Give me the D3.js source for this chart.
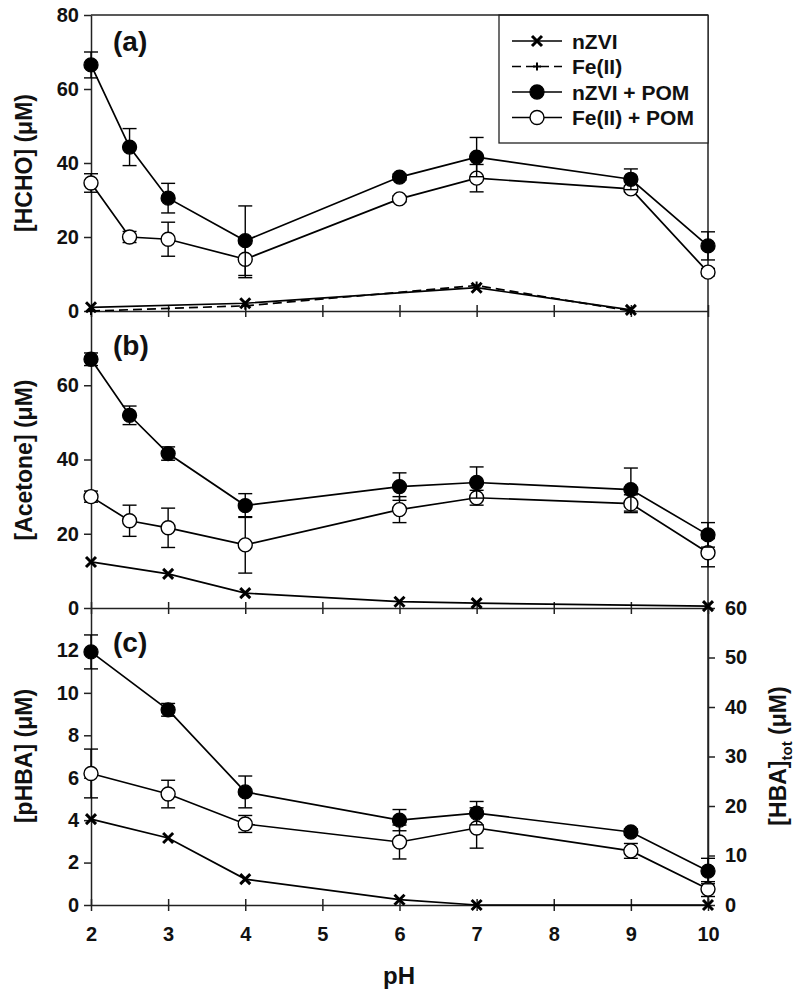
<!DOCTYPE html>
<html>
<head>
<meta charset="utf-8">
<script src="https://cdn.jsdelivr.net/npm/d3@7/dist/d3.min.js"></script>
<style>
body { margin: 0; background: #fff; }
text { font-family: "Liberation Sans", Arial, sans-serif; font-weight: bold; fill: #111; }
</style>
</head>
<body>
<script>
var pHAll = [2, 2.5, 3, 4, 6, 7, 9, 10];
var pHTicks = [2, 3, 4, 5, 6, 7, 8, 9, 10];

// (a) HCHO
var hchoNzviPom = [66.5, 44.3, 30.5, 19.0, 36.2, 41.6, 35.6, 17.6];
var hchoNzviPomErr = [3.5, 5.0, 4.0, 9.4, 0.8, 5.3, 2.8, 3.8];
var hchoFePom = [34.6, 20.0, 19.4, 14.0, 30.3, 35.9, 33.0, 10.5];
var hchoFePomErr = [2.5, 1.5, 4.6, 5.0, 0.8, 3.7, 0.8, 1.0];
var pHHchoNzvi = [2, 4, 7, 9];
var hchoNzvi = [1.0, 2.1, 6.3, 0.3];
var hchoFe = [0.0, 1.4, 6.9, 0.0];

// (b) acetone
var acetoneNzviPom = [67.0, 51.9, 41.6, 27.6, 32.7, 33.8, 31.9, 19.7];
var acetoneNzviPomErr = [1.7, 2.5, 1.8, 3.2, 3.7, 4.2, 5.8, 3.3];
var acetoneFePom = [30.0, 23.5, 21.6, 17.0, 26.5, 29.7, 28.1, 14.9];
var acetoneFePomErr = [1.5, 4.2, 5.3, 7.6, 3.5, 2.0, 2.4, 3.8];
var pHAcetoneNzvi = [2, 3, 4, 6, 7, 10];
var acetoneNzvi = [12.4, 9.2, 4.0, 1.7, 1.3, 0.5];

// (c) pHBA
var pHPhba = [2, 3, 4, 6, 7, 9, 10];
var phbaNzviPom = [11.93, 9.2, 5.33, 4.0, 4.33, 3.44, 1.6];
var phbaNzviPomErr = [0.8, 0.3, 0.75, 0.5, 0.55, 0.15, 0.6];
var phbaFePom = [6.2, 5.23, 3.82, 2.97, 3.63, 2.55, 0.75];
var phbaFePomErr = [1.15, 0.65, 0.4, 0.8, 0.95, 0.35, 0.35];
var pHPhbaNzvi = [2, 3, 4, 6, 7, 10];
var phbaNzvi = [4.05, 3.16, 1.22, 0.25, 0.0, 0.0];

var legendLabels = ["nZVI", "Fe(II)", "nZVI + POM", "Fe(II) + POM"];
var legendKinds = ["x", "plus", "filled", "open"];

var width = 800, height = 997;
var axisColor = "#222";
var tickFont = 20;

var svg = d3.select("body").append("svg")
    .attr("width", width)
    .attr("height", height);

var xScale = d3.scaleLinear().domain([2, 10]).range([91, 708]);
var yA = d3.scaleLinear().domain([0, 80]).range([311, 15]);
var yB = d3.scaleLinear().domain([0, 80]).range([608, 311]);
var yC = d3.scaleLinear().domain([0, 14]).range([905, 608]);
var yC2 = d3.scaleLinear().domain([0, 60]).range([905, 608]);

function zip(xs, ys, es) {
    return xs.map(function(x, i) { return {x: x, y: ys[i], e: es ? es[i] : 0}; });
}

function marker(g, kind, cx, cy) {
    if (kind == "filled") {
        g.append("circle").attr("cx", cx).attr("cy", cy).attr("r", 7)
            .style("fill", "#000").style("stroke", "#000").style("stroke-width", 1.3);
    } else if (kind == "open") {
        g.append("circle").attr("cx", cx).attr("cy", cy).attr("r", 7)
            .style("fill", "#fff").style("stroke", "#000").style("stroke-width", 1.4);
    } else if (kind == "x") {
        g.append("path").attr("transform", "translate(" + cx + "," + cy + ")")
            .attr("d", "M-5,-5L5,5M-5,5L5,-5")
            .style("stroke", "#000").style("stroke-width", 3).style("fill", "none");
    } else if (kind == "plus") {
        g.append("path").attr("transform", "translate(" + cx + "," + cy + ")")
            .attr("d", "M-4,0L4,0M0,-4L0,4")
            .style("stroke", "#000").style("stroke-width", 2).style("fill", "none");
    }
}

function drawSeries(yScale, data, kind, dashed) {
    var g = svg.append("g");
    // error bars first
    data.forEach(function(d) {
        if (!d.e) return;
        var x = xScale(d.x), y0 = yScale(d.y - d.e), y1 = yScale(d.y + d.e);
        g.append("line").attr("x1", x).attr("x2", x).attr("y1", y0).attr("y2", y1)
            .style("stroke", "#000").style("stroke-width", 1.4);
        [y0, y1].forEach(function(yy) {
            g.append("line").attr("x1", x - 7).attr("x2", x + 7).attr("y1", yy).attr("y2", yy)
                .style("stroke", "#000").style("stroke-width", 1.4);
        });
    });
    var line = d3.line()
        .x(function(d) { return xScale(d.x); })
        .y(function(d) { return yScale(d.y); });
    g.append("path").datum(data)
        .attr("d", line)
        .style("fill", "none")
        .style("stroke", "#000")
        .style("stroke-width", 1.7)
        .style("stroke-dasharray", dashed ? "9,5" : null);
    data.forEach(function(d) {
        marker(g, kind, xScale(d.x), yScale(d.y));
    });
}

function styleAxis(g) {
    g.selectAll("path").style("stroke", axisColor).style("stroke-width", 1.5);
    g.selectAll("line").style("stroke", axisColor).style("stroke-width", 1.5);
    g.selectAll("text").attr("font-size", tickFont).style("fill", "#111");
    g.attr("font-family", null);
}

// left axes
svg.append("g").attr("transform", "translate(91,0)")
    .call(d3.axisLeft(yA).tickValues([0, 20, 40, 60, 80]).tickSize(7).tickSizeOuter(0).tickPadding(5))
    .call(styleAxis);
svg.append("g").attr("transform", "translate(91,0)")
    .call(d3.axisLeft(yB).tickValues([0, 20, 40, 60]).tickSize(7).tickSizeOuter(0).tickPadding(5))
    .call(styleAxis);
svg.append("g").attr("transform", "translate(91,0)")
    .call(d3.axisLeft(yC).tickValues([0, 2, 4, 6, 8, 10, 12]).tickSize(7).tickSizeOuter(0).tickPadding(5))
    .call(styleAxis);

// right axis for HBA tot
svg.append("g").attr("transform", "translate(708,0)")
    .call(d3.axisRight(yC2).tickValues([0, 10, 20, 30, 40, 50, 60]).tickSize(7).tickSizeOuter(0).tickPadding(10))
    .call(styleAxis);
svg.append("line").attr("x1", 708).attr("x2", 708).attr("y1", 15).attr("y2", 905)
    .style("stroke", axisColor).style("stroke-width", 1.5);

// x axes, ticks cross the line
[311, 608, 905].forEach(function(yPos, i) {
    var ax = svg.append("g").attr("transform", "translate(0," + yPos + ")")
        .call(d3.axisBottom(xScale).tickValues(pHTicks).tickSize(6).tickSizeOuter(0).tickPadding(16))
        .call(styleAxis);
    ax.selectAll(".tick line").attr("y1", -6).attr("y2", 6);
    if (i < 2) ax.selectAll(".tick text").remove();
});

// legend box + top frame
svg.append("rect").attr("x", 499).attr("y", 15).attr("width", 209).attr("height", 128)
    .style("fill", "#fff").style("stroke", axisColor).style("stroke-width", 1.3);
svg.append("line").attr("x1", 91).attr("x2", 708).attr("y1", 15).attr("y2", 15)
    .style("stroke", axisColor).style("stroke-width", 1.5);

legendLabels.forEach(function(lbl, i) {
    var ly = 41 + i * 25.5;
    svg.append("line").attr("x1", 512).attr("x2", 562).attr("y1", ly).attr("y2", ly)
        .style("stroke", "#000").style("stroke-width", 1.7)
        .style("stroke-dasharray", legendKinds[i] == "plus" ? "9,5" : null);
    marker(svg, legendKinds[i], 537, ly);
    svg.append("text").attr("x", 572).attr("y", ly + 7.5).attr("font-size", 21).text(lbl);
});

// panel (a)
drawSeries(yA, zip(pHHchoNzvi, hchoFe), "plus", true);
drawSeries(yA, zip(pHHchoNzvi, hchoNzvi), "x", false);
drawSeries(yA, zip(pHAll, hchoFePom, hchoFePomErr), "open", false);
drawSeries(yA, zip(pHAll, hchoNzviPom, hchoNzviPomErr), "filled", false);

// panel (b)
drawSeries(yB, zip(pHAcetoneNzvi, acetoneNzvi), "x", false);
drawSeries(yB, zip(pHAll, acetoneFePom, acetoneFePomErr), "open", false);
drawSeries(yB, zip(pHAll, acetoneNzviPom, acetoneNzviPomErr), "filled", false);

// panel (c)
drawSeries(yC, zip(pHPhbaNzvi, phbaNzvi), "x", false);
drawSeries(yC, zip(pHPhba, phbaFePom, phbaFePomErr), "open", false);
drawSeries(yC, zip(pHPhba, phbaNzviPom, phbaNzviPomErr), "filled", false);

// panel letters
svg.append("text").attr("x", 113).attr("y", 51).attr("font-size", 28).text("(a)");
svg.append("text").attr("x", 113).attr("y", 355).attr("font-size", 28).text("(b)");
svg.append("text").attr("x", 113).attr("y", 652).attr("font-size", 28).text("(c)");

// axis titles
svg.append("text").attr("transform", "translate(32,163) rotate(-90)")
    .attr("text-anchor", "middle").attr("font-size", 23).text("[HCHO] (\u03bcM)");
svg.append("text").attr("transform", "translate(32,460) rotate(-90)")
    .attr("text-anchor", "middle").attr("font-size", 23).text("[Acetone] (\u03bcM)");
svg.append("text").attr("transform", "translate(32,756) rotate(-90)")
    .attr("text-anchor", "middle").attr("font-size", 23).text("[pHBA] (\u03bcM)");

var rt = svg.append("text").attr("transform", "translate(786,756) rotate(-90)")
    .attr("text-anchor", "middle").attr("font-size", 23);
rt.append("tspan").text("[HBA]");
rt.append("tspan").attr("dy", 6).attr("font-size", 15).text("tot");
rt.append("tspan").attr("dy", -6).text(" (\u03bcM)");

svg.append("text").attr("x", 399).attr("y", 984)
    .attr("text-anchor", "middle").attr("font-size", 24).text("pH");
</script>
</body>
</html>
